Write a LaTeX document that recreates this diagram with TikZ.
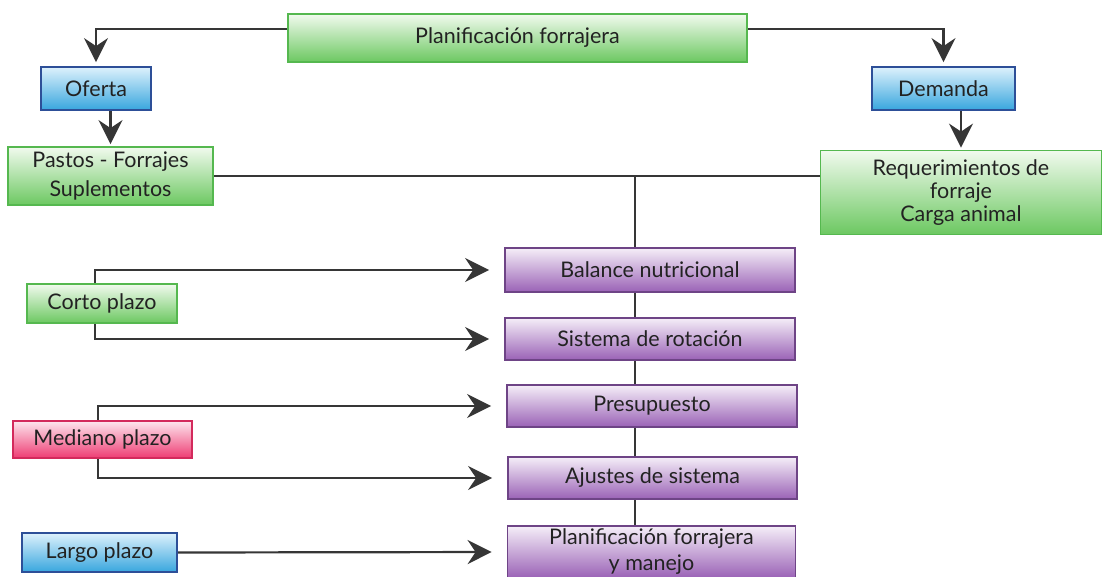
\documentclass[tikz,border=0pt]{standalone}
\usepackage{fontspec}
\setmainfont{Lato}
\usetikzlibrary{arrows.meta,calc,backgrounds}
\definecolor{linec}{HTML}{363636}
\definecolor{gtop}{HTML}{F1FAEE}
\definecolor{gbot}{HTML}{6CC861}
\definecolor{gbrd}{HTML}{55B84F}
\definecolor{btop}{HTML}{DDF1FC}
\definecolor{bbot}{HTML}{38A6DE}
\definecolor{bbrd}{HTML}{2D4F98}
\definecolor{rtop}{HTML}{FDE6EE}
\definecolor{rbot}{HTML}{EE3C73}
\definecolor{rbrd}{HTML}{D32A5C}
\definecolor{ptop}{HTML}{F5EEF8}
\definecolor{pbot}{HTML}{9A62B6}
\definecolor{pbrd}{HTML}{6E4486}
\definecolor{txt}{HTML}{222222}
\tikzset{
  box/.style={draw, line width=1.8pt, shading=axis, shading angle=0, align=center,
    inner sep=0pt, text=txt, font=\fontsize{21.5}{23}\selectfont},
  gbox/.style={box, draw=gbrd, top color=gtop, bottom color=gbot},
  bbox/.style={box, draw=bbrd, top color=btop, bottom color=bbot},
  rbox/.style={box, draw=rbrd, top color=rtop, bottom color=rbot},
  pbox/.style={box, draw=pbrd, top color=ptop, bottom color=pbot},
  conn/.style={draw=linec, line width=2.2pt},
  arr/.style={conn, -{Stealth[length=24pt,width=24pt,inset=8pt]}},
}
\begin{document}
\begin{tikzpicture}[x=1pt,y=-1pt]
\useasboundingbox (0,0) rectangle (1103,577);
\node[gbox, minimum width=459pt, minimum height=48pt] (top) at (517.5,38) {Planificación forrajera};
\node[bbox, minimum width=110pt, minimum height=43pt] (oferta) at (96,88.5) {Oferta};
\node[bbox, minimum width=143pt, minimum height=43pt] (demanda) at (943.5,88.5) {Demanda};
\node[gbox, minimum width=205pt, minimum height=58pt, font=\fontsize{21.5}{29}\selectfont] (pastos) at (110.5,176) {Pastos - Forrajes\\Suplementos};
\node[gbox, minimum width=281pt, minimum height=84pt, font=\fontsize{21.5}{23}\selectfont] (req) at (961,192.5) {Requerimientos de\\forraje\\Carga animal};
\node[pbox, minimum width=290pt, minimum height=44pt] (balance) at (650,270) {Balance nutricional};
\node[pbox, minimum width=290pt, minimum height=42pt] (sistema) at (650,339) {Sistema de rotación};
\node[pbox, minimum width=290pt, minimum height=42pt] (presup) at (652,406) {Presupuesto};
\node[pbox, minimum width=289pt, minimum height=42pt] (ajustes) at (652.5,478) {Ajustes de sistema};
\node[pbox, minimum width=288pt, minimum height=52pt, font=\fontsize{21.5}{26}\selectfont] (plan) at (651.5,552) {Planificación forrajera\\y manejo};
\node[gbox, minimum width=150pt, minimum height=39pt] (corto) at (102,303.5) {Corto plazo};
\node[rbox, minimum width=179pt, minimum height=37pt] (mediano) at (102.5,439.5) {Mediano plazo};
\node[bbox, minimum width=155pt, minimum height=39pt] (largo) at (99.5,552.5) {Largo plazo};
\coordinate (j) at (635,176);
\begin{scope}[on background layer]
  \draw[arr, shorten >=4pt] ($(top.west)+(0,-9)$) -| (oferta.north);
  \draw[arr, shorten >=4pt] ($(top.east)+(0,-9)$) -| (demanda.north);
  \draw[arr, shorten >=2pt] (oferta.south -| pastos.north) -- (pastos.north);
  \draw[arr, shorten >=2pt] (demanda.south -| req.north) -- (req.north);
  \draw[conn] (pastos.east) -- (pastos.east -| req.west);
  \draw[conn] (j) -- (j |- plan.north);
  \draw[arr, shorten >=15pt] ($(corto.north)+(-7,0)$) |- (balance.west);
  \draw[arr, shorten >=15pt] ($(corto.south)+(-7,0)$) |- (sistema.west);
  \draw[arr, shorten >=15pt] ($(mediano.north)+(-4.5,0)$) |- (presup.west);
  \draw[arr, shorten >=15pt] ($(mediano.south)+(-4.5,0)$) |- (ajustes.west);
  \draw[arr, shorten >=15pt] (largo.east) -- (plan.west);
\end{scope}
\end{tikzpicture}
\end{document}
